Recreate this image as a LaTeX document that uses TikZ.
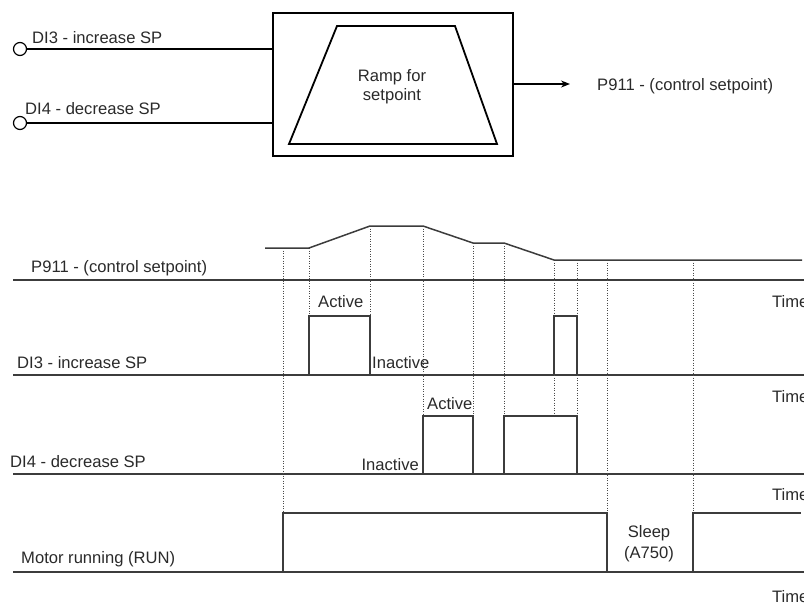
\documentclass[tikz,border=0pt]{standalone}
\usepackage{fontspec}
\setmainfont{Liberation Sans}
\usetikzlibrary{arrows.meta}
\definecolor{ink}{HTML}{2A2A2A}
\definecolor{wline}{HTML}{3C3C3C}
\definecolor{dotc}{HTML}{4A4A4A}
\tikzset{
  lbl/.style={inner sep=0pt, text=ink, font=\fontsize{16.6}{19}\selectfont},
  axis/.style={draw=wline, line width=1.3pt},
  wave/.style={draw=wline, line width=1.5pt, line join=miter},
  guide/.style={draw=dotc, line width=1pt, dash pattern=on 1pt off 1.5pt},
  blk/.style={draw=black, line width=1.8pt},
  term/.style={circle, draw=black, line width=1.2pt, minimum size=13pt, inner sep=0pt, fill=white},
  wire/.style={draw=black, line width=1.3pt}
}
\begin{document}
\begin{tikzpicture}[x=1pt,y=-1pt]
\useasboundingbox (0,0) rectangle (804,603);
% ---------- block diagram ----------
\node[blk, minimum width=240pt, minimum height=143pt, inner sep=0pt] (box) at (393,84.5) {};
\draw[blk, line join=miter] (289,144) -- (337,26) -- (455,26) -- (497,144) -- cycle;
\node[lbl, anchor=base] (ramp1) at (392,81) {Ramp for};
\node[lbl, anchor=base] (ramp2) at (392,100) {setpoint};
\node[term] (in3) at (20,49) {};
\node[term] (in4) at (20,123) {};
\draw[wire] (in3.east) -- (in3.east -| box.west);
\draw[wire] (in4.east) -- (in4.east -| box.west);
\node[lbl, anchor=base west] (l3top) at (32,43) {DI3 - increase SP};
\node[lbl, anchor=base west] (l4top) at (25,114) {DI4 - decrease SP};
\coordinate (outend) at (570,84);
\draw[wire, -{Stealth[length=9pt,width=7pt]}] (box.east |- outend) -- (outend);
\node[lbl, anchor=base west] (outlbl) at (597,90) {P911 - (control setpoint)};
% ---------- timing diagram: axes ----------
\draw[axis] (13,280) -- (804,280);
\draw[axis] (13,375) -- (804,375);
\draw[axis] (13,474) -- (804,474);
\draw[axis] (13,572) -- (804,572);
\node[lbl, anchor=base west] (sig1) at (31,272) {P911 - (control setpoint)};
\node[lbl, anchor=base west] (sig2) at (17,368) {DI3 - increase SP};
\node[lbl, anchor=base west] (sig3) at (10,467) {DI4 - decrease SP};
\node[lbl, anchor=base west] (sig4) at (21,563) {Motor running (RUN)};
\node[lbl, anchor=base west] (t1) at (772,307) {Time};
\node[lbl, anchor=base west] (t2) at (772,402) {Time};
\node[lbl, anchor=base west] (t3) at (772,500) {Time};
\node[lbl, anchor=base west] (t4) at (772,602) {Time};
% ---------- dotted guides ----------
\draw[guide] (283,248) -- (283,513);
\draw[guide] (309,248) -- (309,316);
\draw[guide] (370,226) -- (370,316);
\draw[guide] (423,226) -- (423,416);
\draw[guide] (473,243) -- (473,416);
\draw[guide] (504,243) -- (504,416);
\draw[guide] (554,260) -- (554,416);
\draw[guide] (577,260) -- (577,416);
\draw[guide] (607,260) -- (607,513);
\draw[guide] (693,260) -- (693,513);
% ---------- waveforms ----------
\draw[wave] (265,248) -- (309,248) -- (370,226) -- (423,226) -- (473,243) -- (504,243) -- (554,260) -- (802,260);
\draw[wave] (309,375) -- (309,316) -- (370,316) -- (370,375);
\draw[wave] (554,375) -- (554,316) -- (577,316) -- (577,375);
\draw[wave] (423,474) -- (423,416) -- (473,416) -- (473,474);
\draw[wave] (504,474) -- (504,416) -- (577,416) -- (577,474);
\draw[wave] (283,572) -- (283,513) -- (607,513) -- (607,572);
\draw[wave] (693,572) -- (693,513) -- (801,513);
% ---------- state labels ----------
\node[lbl, anchor=base west] (a3) at (318,307) {Active};
\node[lbl, anchor=base west] (i3) at (372,368) {Inactive};
\node[lbl, anchor=base west] (a4) at (427,409) {Active};
\node[lbl, anchor=base east] (i4) at (419,470) {Inactive};
\node[lbl, anchor=base] (sl1) at (649,537) {Sleep};
\node[lbl, anchor=base] (sl2) at (649,558) {(A750)};
\end{tikzpicture}
\end{document}
